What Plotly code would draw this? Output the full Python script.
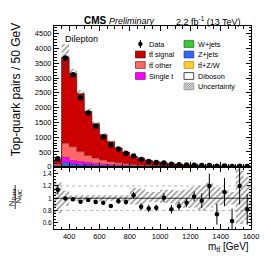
import plotly.graph_objects as go

# ---------------- data ----------------
bin_edges = [300, 350, 400, 450, 500, 550, 600, 650, 700, 750, 800, 850, 900, 950,
             1000, 1050, 1100, 1150, 1200, 1250, 1300, 1350, 1400, 1450, 1500, 1550, 1600]
bin_centers = [325, 375, 425, 475, 525, 575, 625, 675, 725, 775, 825, 875, 925, 975,
               1025, 1075, 1125, 1175, 1225, 1275, 1325, 1375, 1425, 1475, 1525, 1575]

data = [270, 3680, 3110, 2330, 1820, 1365, 1000, 735, 600, 455, 360, 240, 175, 140,
        126, 80, 68, 57, 50, 37, 36, 18, 21, 9.5, 14, 7.5]
data_err = [18, 60, 56, 48, 43, 37, 32, 27, 24, 21, 19, 16, 13, 12,
            9, 7, 6, 5, 4.5, 4.5, 6, 4.2, 4.5, 3, 3.7, 2.5]

diboson = [1, 8, 7, 5, 4, 3, 3, 2, 2, 1, 1, 1, 1, 0.5, 0.5, 0.4, 0.3, 0.3, 0.2, 0.2,
           0.1, 0.1, 0.1, 0.1, 0.05, 0.05]
ttv = [2, 12, 12, 10, 9, 8, 7, 6, 5, 4, 3, 3, 2, 2, 1.5, 1.2, 1, 0.8, 0.6, 0.5,
       0.4, 0.3, 0.3, 0.2, 0.2, 0.1]
wjets = [2, 8, 6, 5, 4, 3, 2, 2, 1, 1, 1, 1, 0.5, 0.5, 0.3, 0.3, 0.2, 0.2, 0.1, 0.1,
         0.1, 0.1, 0.05, 0.05, 0.05, 0.02]
zjets = [12, 118, 65, 50, 38, 28, 20, 15, 12, 9, 6, 5, 4, 3, 2.5, 2, 1.5, 1.2, 1, 0.8,
         0.6, 0.5, 0.4, 0.3, 0.2, 0.2]
singlet = [15, 170, 115, 100, 85, 68, 53, 40, 30, 23, 17, 13, 10, 8, 6, 5, 4, 3, 2.5, 2,
           1.5, 1.2, 1, 0.8, 0.6, 0.5]
ttother = [50, 477, 470, 340, 235, 185, 140, 105, 80, 62, 45, 36, 27, 21, 16, 12, 10, 8,
           6, 5, 4, 3, 2.5, 2, 1.5, 1.2]
ttsignal = [150, 2907, 2482, 1956, 1501, 1157, 856, 670, 502, 384, 270, 220, 165.5, 131,
            98.2, 77.1, 61, 48.5, 38.1, 29.9, 23.3, 19.1, 14.65, 11.55, 9.1, 7.03]

unc_up = [0.26, 0.12, 0.05, 0.05, 0.05, 0.05, 0.05, 0.05, 0.05, 0.05, 0.17, 0.16, 0.10,
          0.10, 0.14, 0.14, 0.12, 0.14, 0.18, 0.20, 0.25, 0.18, 0.14, 0.10, 0.48, 0.35]
unc_dn = [0.24, 0.12, 0.05, 0.05, 0.05, 0.05, 0.05, 0.05, 0.05, 0.05, 0.10, 0.10, 0.06,
          0.06, 0.08, 0.08, 0.14, 0.16, 0.15, 0.20, 0.15, 0.10, 0.12, 0.10, 0.42, 0.35]

ratio = [1.14, 0.995, 0.985, 0.945, 0.97, 0.94, 0.925, 0.875, 0.95, 0.94, 1.05, 0.86,
         0.835, 0.845, 1.01, 0.82, 0.87, 0.925, 1.03, 0.96, 1.2, 0.74, 1.1, 0.63, 1.2, 0.82]
ratio_err = [0.08, 0.016, 0.018, 0.02, 0.023, 0.026, 0.03, 0.032, 0.038, 0.043, 0.055,
             0.056, 0.06, 0.05, 0.07, 0.07, 0.07, 0.07, 0.08, 0.12, 0.2, 0.17, 0.23,
             0.2, 0.3, 0.25]

x_ticks = [400, 600, 800, 1000, 1200, 1400, 1600]
y_ticks = [0, 500, 1000, 1500, 2000, 2500, 3000, 3500, 4000, 4500]
r_ticks = [0.6, 0.8, 1.0, 1.2, 1.4]
r_ticktext = ["0.6", "0.8", "1", "1.2", "1.4"]

components = [
    ("Diboson", diboson, "#ffffff", "#000000"),
    ("t\u0074\u0304+Z/W", ttv, "#ffcc33", "#b38600"),
    ("W+jets", wjets, "#33cc33", "#1a661a"),
    ("Z+jets", zjets, "#3366ff", "#1a3380"),
    ("Single t", singlet, "#ff00ff", "#800080"),
    ("t\u0074\u0304 other", ttother, "#ff6666", "#802020"),
    ("t\u0074\u0304 signal", ttsignal, "#cc0000", "#400000"),
]

FONT = "Liberation Sans, Arial, sans-serif"


def step(vals):
    v = list(vals)
    return v + [v[-1]]


fig = go.Figure()

# stacked MC (main)
for name, vals, col, lcol in components:
    fig.add_trace(go.Scatter(
        x=bin_edges, y=step(vals), mode="lines", line=dict(shape="hv", width=0.6, color=lcol),
        stackgroup="mc", fillcolor=col, name=name, showlegend=False,
        xaxis="x", yaxis="y", hoverinfo="skip"))

# MC total and uncertainty band (main)
mc_total = [sum(c[1][i] for c in components) for i in range(len(bin_centers))]
band_lo = [t * (1 - d) for t, d in zip(mc_total, unc_dn)]
band_hi = [t * (1 + u) for t, u in zip(mc_total, unc_up)]
hatch = dict(shape="/", fgcolor="#333333", bgcolor="rgba(0,0,0,0)", size=4,
             solidity=0.4, fillmode="overlay")
fig.add_trace(go.Scatter(x=bin_edges, y=step(band_lo), mode="lines",
                         line=dict(shape="hv", width=0), showlegend=False,
                         xaxis="x", yaxis="y", hoverinfo="skip"))
fig.add_trace(go.Scatter(x=bin_edges, y=step(band_hi), mode="lines",
                         line=dict(shape="hv", width=0), fill="tonexty",
                         fillcolor="rgba(0,0,0,0)", fillpattern=hatch, showlegend=False,
                         xaxis="x", yaxis="y", hoverinfo="skip"))

# ratio band
r_lo = [1 - d for d in unc_dn]
r_hi = [1 + u for u in unc_up]
fig.add_trace(go.Scatter(x=bin_edges, y=step(r_lo), mode="lines",
                         line=dict(shape="hv", width=0), showlegend=False,
                         xaxis="x2", yaxis="y2", hoverinfo="skip"))
fig.add_trace(go.Scatter(x=bin_edges, y=step(r_hi), mode="lines",
                         line=dict(shape="hv", width=0), fill="tonexty",
                         fillcolor="rgba(0,0,0,0)", fillpattern=hatch, showlegend=False,
                         xaxis="x2", yaxis="y2", hoverinfo="skip"))

# data
fig.add_trace(go.Scatter(
    x=bin_centers, y=data, mode="markers",
    marker=dict(color="black", size=5.5),
    error_y=dict(type="data", array=data_err, color="black", thickness=1, width=0),
    showlegend=False, xaxis="x", yaxis="y"))
fig.add_trace(go.Scatter(
    x=bin_centers, y=ratio, mode="markers",
    marker=dict(color="black", size=4.5),
    error_y=dict(type="data", array=ratio_err, color="black", thickness=1, width=0),
    showlegend=False, xaxis="x2", yaxis="y2", cliponaxis=True))

# ---------------- layout ----------------
# the page body adds an 8px offset; figure is sized so it fills the window exactly
OFF = 8
WIN_W, WIN_H = 271, 260
W, H = WIN_W - OFF, WIN_H - OFF
# plot area in window pixel coordinates
L, R, T, B = 54, 257, 26, 229
PW, PH = R - L, B - T


def px(x):
    return (x - L) / PW


def py(y):
    return (B - y) / PH


axis_common = dict(showline=True, linecolor="black", linewidth=1, mirror="allticks",
                   ticks="inside", tickcolor="black", showgrid=False, zeroline=False,
                   tickfont=dict(family=FONT, size=7.5, color="black"))

fig.update_layout(
    width=W, height=H, autosize=False,
    margin=dict(l=L - OFF, r=WIN_W - R, t=T - OFF, b=WIN_H - B, pad=0),
    paper_bgcolor="white", plot_bgcolor="white",
    font=dict(family=FONT, color="black"),
    showlegend=False,
    xaxis=dict(domain=[0, 1], range=[300, 1600], anchor="y", showticklabels=False,
               tickvals=x_ticks, ticklen=5,
               minor=dict(dtick=50, ticklen=2.5, ticks="inside", tickcolor="black"),
               **axis_common),
    yaxis=dict(domain=[0.307, 1], range=[0, 4760], anchor="x", tickvals=y_ticks,
               ticklen=5, minor=dict(dtick=100, ticklen=2.5, ticks="inside", tickcolor="black"),
               **axis_common),
    xaxis2=dict(domain=[0, 1], range=[300, 1600], anchor="y2", matches="x",
                tickvals=x_ticks, ticklen=5,
                minor=dict(dtick=50, ticklen=2.5, ticks="inside", tickcolor="black"),
                **axis_common),
    yaxis2=dict(domain=[0, 0.303], range=[0.5, 1.5], anchor="x2", tickvals=r_ticks,
                ticktext=r_ticktext, ticklen=4,
                minor=dict(dtick=0.05, ticklen=2, ticks="inside", tickcolor="black"),
                **{**axis_common, "tickfont": dict(family=FONT, size=6.5, color="black")}),
)

shapes = []
# ratio reference lines
shapes.append(dict(type="line", xref="x2 domain", yref="y2", x0=0, x1=1, y0=1, y1=1,
                   line=dict(color="black", width=0.8)))
for yv in (0.8, 1.2):
    shapes.append(dict(type="line", xref="x2 domain", yref="y2", x0=0, x1=1, y0=yv, y1=yv,
                       line=dict(color="#aaaaaa", width=0.8, dash="dot"), layer="below"))

annotations = []


def text(xp, yp, s, size, xanchor="left", angle=0, yanchor="middle"):
    annotations.append(dict(x=px(xp), y=py(yp), xref="paper", yref="paper", text=s,
                            showarrow=False, xanchor=xanchor, yanchor=yanchor,
                            textangle=angle, font=dict(family=FONT, size=size, color="black")))


# titles
text(83, 20.5, "<b>CMS</b> <span style='font-size:9px'><i>Preliminary</i></span>", 10)
text(249, 20.5, "2.2 fb<sup>-1</sup> (13 TeV)", 9, xanchor="right")
text(63, 39.5, "Dilepton", 9)
text(15, 90, "Top-quark pairs / 50 GeV", 12, xanchor="center", angle=-90)
text(257, 247, "m<sub>t\u0074\u0304</sub> [GeV]", 10, xanchor="right")
# ratio y title as fraction
text(11, 197, "N<sub>Data</sub>", 8, xanchor="center", angle=-90)
text(17.5, 197, "N<sub>MC</sub>", 8, xanchor="center", angle=-90)
shapes.append(dict(type="line", xref="paper", yref="paper", x0=px(14), x1=px(14),
                   y0=py(185), y1=py(209), line=dict(color="black", width=0.8)))

# manual legend
LEG_FONT = 7.3
box_h = 3.4


def leg_box(x0, yc, fill, line):
    shapes.append(dict(type="rect", xref="paper", yref="paper",
                       x0=px(x0), x1=px(x0 + 10), y0=py(yc + box_h), y1=py(yc - box_h),
                       fillcolor=fill, line=dict(color=line, width=0.7)))


rows1 = [(44, "Data", None), (54.5, "t\u0074\u0304 signal", ("#cc0000", "#400000")),
         (65, "t\u0074\u0304 other", ("#ff6666", "#802020")),
         (76, "Single t", ("#ff00ff", "#800080"))]
for yc, lab, cols in rows1:
    if cols is None:
        shapes.append(dict(type="circle", xref="paper", yref="paper",
                           x0=px(141), x1=px(145), y0=py(46), y1=py(42),
                           fillcolor="black", line=dict(color="black", width=0.5)))
        shapes.append(dict(type="line", xref="paper", yref="paper",
                           x0=px(143), x1=px(143), y0=py(48), y1=py(40),
                           line=dict(color="black", width=1)))
    else:
        leg_box(138, yc, cols[0], cols[1])
    text(150, yc, lab, LEG_FONT)

rows2 = [(44, "W+jets", ("#33cc33", "#1a661a")), (54.5, "Z+jets", ("#3366ff", "#1a3380")),
         (65, "t\u0074\u0304+Z/W", ("#ffcc33", "#b38600")), (76, "Diboson", ("#ffffff", "#000000"))]
for yc, lab, cols in rows2:
    leg_box(188, yc, cols[0], cols[1])
    text(200, yc, lab, LEG_FONT)

# uncertainty legend entry (hatched box)
ux0, ux1, uy_top, uy_bot = 188, 198, 86.5 - box_h, 86.5 + box_h
hh = uy_bot - uy_top
path = ""
c = ux0 - hh
while c < ux1:
    sx, sy = c, uy_bot
    ex, ey = c + hh, uy_top
    if sx < ux0:
        sy = uy_bot - (ux0 - sx)
        sx = ux0
    if ex > ux1:
        ey = uy_top + (ex - ux1)
        ex = ux1
    path += f"M{px(sx):.5f},{py(sy):.5f} L{px(ex):.5f},{py(ey):.5f} "
    c += 1.8
shapes.append(dict(type="path", xref="paper", yref="paper", path=path,
                   line=dict(color="#444444", width=0.6)))
shapes.append(dict(type="rect", xref="paper", yref="paper",
                   x0=px(ux0), x1=px(ux1), y0=py(uy_bot), y1=py(uy_top),
                   line=dict(color="#777777", width=0.5)))
text(200, 86.5, "Uncertainty", LEG_FONT)

fig.update_layout(shapes=shapes, annotations=annotations)
fig.write_html("out.html")
